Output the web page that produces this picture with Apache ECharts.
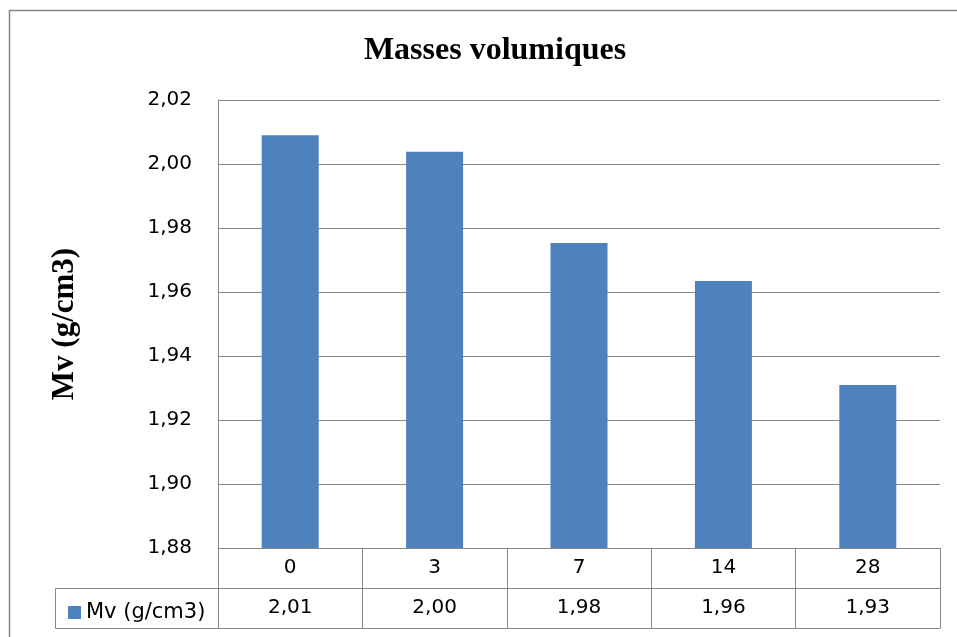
<!DOCTYPE html>
<html>
<head>
<meta charset="utf-8">
<style>
html, body { margin: 0; padding: 0; background: #fff; }
#chart { width: 957px; height: 637px; }
</style>
<script src="https://cdn.jsdelivr.net/npm/echarts@6/dist/echarts.min.js"></script>
</head>
<body>
<div id="chart"></div>
<script>
// donnees
var categories = ['0', '3', '7', '14', '28'];
var mvValues = [2.009, 2.0038, 1.9753, 1.9634, 1.9309];
var seriesName = 'Mv (g/cm3)';
var yMin = 1.88, yMax = 2.02, yStep = 0.02;

function virgule(v) {
    return v.toFixed(2).replace('.', ',');
}

var gridLeft = 218, gridTop = 100, gridRight = 17, gridBottom = 89; // 957-940, 637-548
var lineColor = '#888888';
var sansFont = 'DejaVu Sans';

var chart = echarts.init(document.getElementById('chart'));
var option = {
    backgroundColor: '#fff',
    animation: false,
    title: {
        text: 'Masses volumiques',
        left: 490,
        textAlign: 'center',
        top: 30,
        textStyle: {
            fontFamily: 'Liberation Serif',
            fontWeight: 'bold',
            fontSize: 32,
            color: '#000'
        }
    },
    legend: {
        data: [seriesName],
        left: 63,
        top: 597,
        itemWidth: 13,
        itemHeight: 13,
        itemGap: 8,
        icon: 'rect',
        textStyle: { fontFamily: sansFont, fontSize: 21, color: '#000' }
    },
    grid: {
        left: gridLeft,
        top: gridTop,
        right: gridRight,
        bottom: gridBottom,
        containLabel: false
    },
    xAxis: [{
        type: 'category',
        data: categories,
        position: 'bottom',
        boundaryGap: true,
        axisLine: { lineStyle: { color: lineColor, width: 1 } },
        axisTick: { show: true, alignWithLabel: false, length: 80, lineStyle: { color: lineColor } },
        axisLabel: { margin: 10, fontFamily: sansFont, fontSize: 20, color: '#000' },
        splitLine: { show: false }
    }, {
        type: 'category',
        data: mvValues.map(virgule),
        position: 'bottom',
        offset: 40,
        axisLine: { show: true, lineStyle: { color: lineColor, width: 1 } },
        axisTick: { show: false },
        axisLabel: { margin: 10, fontFamily: sansFont, fontSize: 20, color: '#000' }
    }],
    yAxis: {
        type: 'value',
        min: yMin,
        max: yMax,
        interval: yStep,
        name: seriesName,
        nameLocation: 'middle',
        nameGap: 138,
        nameTextStyle: {
            fontFamily: 'Liberation Serif',
            fontWeight: 'bold',
            fontSize: 31,
            color: '#000'
        },
        axisLine: { show: true, lineStyle: { color: lineColor, width: 1 } },
        axisTick: { show: false },
        axisLabel: {
            margin: 26,
            fontFamily: sansFont,
            fontSize: 20,
            color: '#000',
            formatter: function (v) { return virgule(v); }
        },
        splitLine: { lineStyle: { color: lineColor, width: 1 } }
    },
    series: [{
        name: seriesName,
        type: 'bar',
        data: mvValues,
        barWidth: 57,
        itemStyle: { color: '#4f81bd' }
    }],
    graphic: [{
        type: 'rect',
        shape: { x: 9.5, y: 10.5, width: 1000, height: 700 },
        style: { fill: 'none', stroke: lineColor, lineWidth: 1.5 },
        silent: true
    }, {
        type: 'rect',
        shape: { x: 55.5, y: 588.5, width: 885, height: 40 },
        style: { fill: 'none', stroke: lineColor, lineWidth: 1 },
        silent: true
    }]
};
chart.setOption(option);
</script>
</body>
</html>
